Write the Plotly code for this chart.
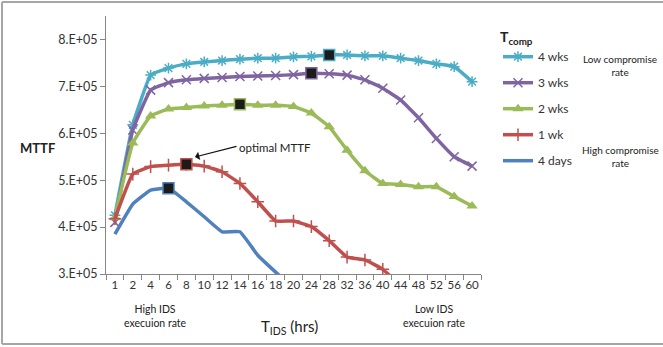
import plotly.graph_objects as go

t_ids = ["1", "2", "4", "6", "8", "10", "12", "14", "16", "18", "20",
         "24", "28", "32", "36", "40", "44", "48", "52", "56", "60"]

wks4 = [4.25e5, 6.18e5, 7.24e5, 7.39e5, 7.48e5, 7.52e5, 7.55e5, 7.58e5, 7.60e5, 7.60e5, 7.63e5,
        7.64e5, 7.67e5, 7.67e5, 7.65e5, 7.65e5, 7.60e5, 7.55e5, 7.48e5, 7.42e5, 7.10e5]
wks3 = [4.10e5, 6.07e5, 6.92e5, 7.08e5, 7.14e5, 7.17e5, 7.19e5, 7.21e5, 7.22e5, 7.23e5, 7.25e5,
        7.28e5, 7.27e5, 7.24e5, 7.14e5, 6.96e5, 6.71e5, 6.33e5, 5.89e5, 5.50e5, 5.30e5]
wks2 = [4.20e5, 5.79e5, 6.37e5, 6.52e5, 6.55e5, 6.58e5, 6.60e5, 6.62e5, 6.60e5, 6.60e5, 6.57e5,
        6.43e5, 6.14e5, 5.64e5, 5.20e5, 4.93e5, 4.91e5, 4.86e5, 4.86e5, 4.65e5, 4.45e5]
wk1 = [4.18e5, 5.13e5, 5.29e5, 5.32e5, 5.34e5, 5.30e5, 5.18e5, 4.93e5, 4.54e5, 4.13e5, 4.13e5,
       4.01e5, 3.71e5, 3.36e5, 3.30e5, 3.10e5, 2.75e5, None, None, None, None]
days4 = [3.85e5, 4.49e5, 4.79e5, 4.83e5, 4.54e5, 4.22e5, 3.90e5, 3.90e5, 3.40e5, 3.04e5, 2.70e5,
         None, None, None, None, None, None, None, None, None, None]

series_names = ["4 wks", "3 wks", "2 wks", "1 wk", "4 days"]
series_vals = [wks4, wks3, wks2, wk1, days4]
series_colors = ["#4BACC6", "#8064A2", "#9BBB59", "#C0504D", "#4F81BD"]
series_symbols = ["asterisk-open", "x-thin-open", "triangle-up", "cross-thin-open", None]
optimal_t = ["28", "24", "14", "8", "6"]

y_ticks = [3e5, 4e5, 5e5, 6e5, 7e5, 8e5]
y_ticktext = ["3.E+05", "4.E+05", "5.E+05", "6.E+05", "7.E+05", "8.E+05"]

W, H = 663, 347
L, R, T, B = 106, 481, 16, 274


def px(x):
    return (x - L) / (R - L)


def py(y):
    return (B - y) / (B - T)


FONT = "Lato"
fig = go.Figure()

for i, (name, vals, col, sym) in enumerate(zip(series_names, series_vals, series_colors, series_symbols)):
    mk = dict(size=9, color=col, line=dict(color=col, width=1.5))
    if sym is None:
        mode = "lines"
    else:
        mode = "lines+markers"
        mk["symbol"] = sym
        if sym == "triangle-up":
            mk["size"] = 10
            mk["line"] = dict(width=0)
    fig.add_trace(go.Scatter(
        x=t_ids, y=vals, name=name, mode=mode,
        line=dict(color=col, width=3.5, shape="spline", smoothing=0.3),
        marker=mk, legendgroup=f"g{i}", connectgaps=False,
    ))

for vals, col, ot in zip(series_vals, series_colors, optimal_t):
    idx = t_ids.index(ot)
    fig.add_trace(go.Scatter(
        x=[ot], y=[vals[idx]], mode="markers", showlegend=False,
        marker=dict(symbol="square", size=11, color="#1b1b1b", line=dict(color=col, width=1.5)),
    ))

fig.update_layout(
    width=W, height=H,
    margin=dict(l=L, r=W - R, t=T, b=H - B),
    paper_bgcolor="white", plot_bgcolor="white",
    font=dict(family=FONT, color="#333333"),
    showlegend=True,
    legend=dict(
        x=px(498), y=py(24), xanchor="left", yanchor="top",
        title=dict(text="<b>T<sub>comp</sub></b>", font=dict(size=14, color="#222222")),
        font=dict(size=12, color="#333333"),
        tracegroupgap=7, itemwidth=30, bgcolor="rgba(0,0,0,0)",
    ),
    xaxis=dict(
        type="category", categoryorder="array", categoryarray=t_ids,
        range=[-0.5, len(t_ids) - 0.5],
        showline=True, linecolor="#868686", linewidth=1,
        ticks="outside", tickson="boundaries", ticklen=5, tickcolor="#868686",
        showgrid=False, zeroline=False, tickangle=0,
        tickfont=dict(size=11.5, color="#333333"),
    ),
    yaxis=dict(
        range=[3e5, 8.5e5], tickvals=y_ticks, ticktext=y_ticktext,
        showline=True, linecolor="#868686", linewidth=1,
        ticks="outside", ticklen=5, tickcolor="#868686",
        showgrid=False, zeroline=False,
        tickfont=dict(size=12.5, color="#333333"),
    ),
)

anns = [
    dict(x=px(37), y=py(148), text="<b>MTTF</b>", font=dict(size=13, color="#222222")),
    dict(x=px(289), y=py(327), text="T<sub>IDS</sub> (hrs)", font=dict(size=15, color="#222222")),
    dict(x=px(155), y=py(316), text="High IDS<br>execuion rate", font=dict(size=10.5, color="#222222")),
    dict(x=px(434), y=py(316), text="Low IDS<br>execuion rate", font=dict(size=10.5, color="#222222")),
    dict(x=px(620), y=py(65), text="Low compromise<br>rate", font=dict(size=10, color="#222222")),
    dict(x=px(620), y=py(156), text="High compromise<br>rate", font=dict(size=10, color="#222222")),
    dict(x=px(275), y=py(147), text="optimal MTTF", font=dict(size=11.5, color="#222222")),
]
for a in anns:
    fig.add_annotation(xref="paper", yref="paper", showarrow=False, xanchor="center",
                       yanchor="middle", align="center", **a)

fig.add_annotation(xref="paper", yref="paper", x=px(195), y=py(157), text="",
                   showarrow=True, ax=43, ay=-11, axref="pixel", ayref="pixel",
                   arrowhead=1, arrowsize=1.2, arrowwidth=1.2, arrowcolor="#111111")

# outer frame
fig.add_shape(type="line", xref="paper", yref="paper", x0=px(2), x1=px(663), y0=py(2), y1=py(2),
              line=dict(color="#a6a6a6", width=2))
fig.add_shape(type="line", xref="paper", yref="paper", x0=px(2), x1=px(663), y0=py(344), y1=py(344),
              line=dict(color="#a6a6a6", width=2))
fig.add_shape(type="line", xref="paper", yref="paper", x0=px(2), x1=px(2), y0=py(2), y1=py(344),
              line=dict(color="#a6a6a6", width=2))

fig.write_html("out.html")
